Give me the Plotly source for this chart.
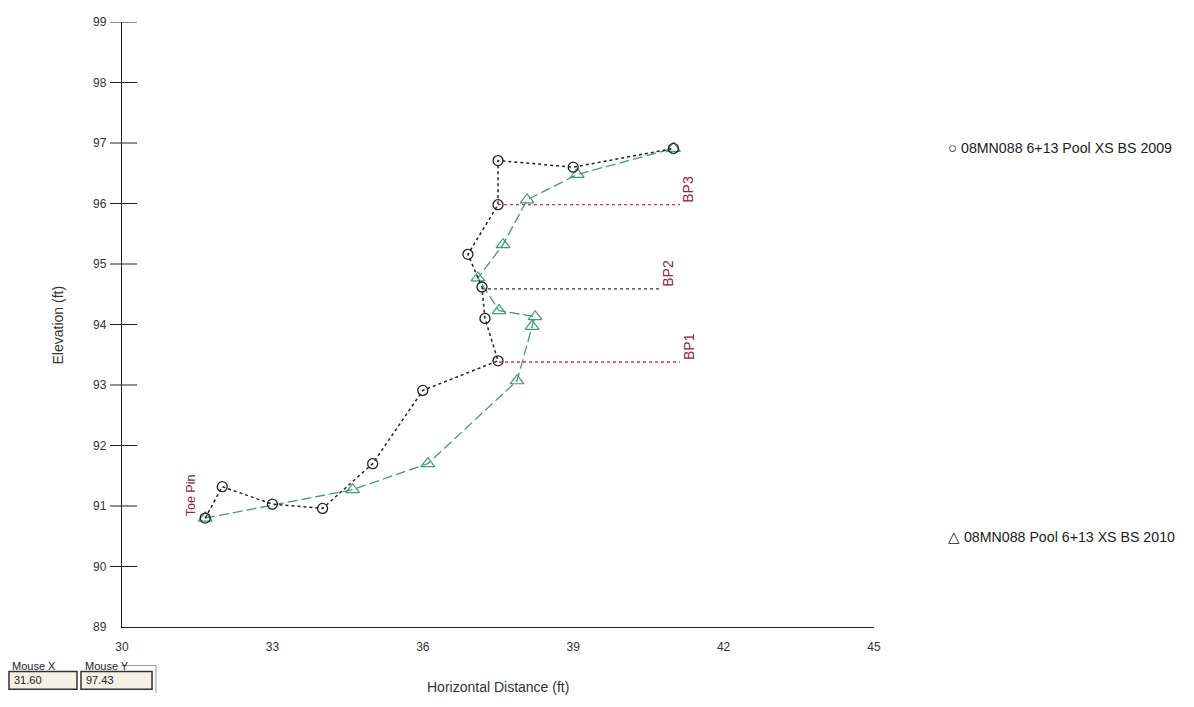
import plotly.graph_objects as go

# ---------------- data ----------------
x_2009 = [31.66, 32.0, 33.0, 34.0, 35.0, 36.0, 37.5, 37.24, 37.18, 36.9, 37.5, 37.5, 39.0, 41.0]
y_2009 = [90.80, 91.32, 91.03, 90.96, 91.70, 92.91, 93.40, 94.10, 94.62, 95.16, 95.98, 96.71, 96.60, 96.91]

x_2010 = [31.66, 34.6, 36.1, 37.88, 38.18, 38.24, 37.52, 37.1, 37.6, 38.08, 39.08, 41.0]
y_2010 = [90.80, 91.27, 91.70, 93.07, 93.97, 94.13, 94.23, 94.77, 95.32, 96.06, 96.48, 96.91]

bp_names = ["BP1", "BP2", "BP3"]
bp_elev = [93.38, 94.59, 95.98]
bp_x_start = [37.52, 37.18, 37.5]
bp_x_end = [41.13, 40.73, 41.13]

toe_pin_label = "Toe Pin"
toe_pin_x = 31.66
toe_pin_y = 90.80

series_names = ["08MN088 6+13 Pool XS BS 2009", "08MN088 Pool 6+13 XS BS 2010"]
legend_elev = [96.93, 90.50]

x_ticks = [30, 33, 36, 39, 42, 45]
y_ticks = [89, 90, 91, 92, 93, 94, 95, 96, 97, 98, 99]

mouse_x = "31.60"
mouse_y = "97.43"

# ---------------- layout geometry ----------------
# page pixels; the html body adds an 8px margin around the figure
BODY = 8
PAGE_W, PAGE_H = 1194, 707
PL, PT = 122, 15            # plot area left/top on the page
PW, PH = 752, 612           # plot area size
W, H = PAGE_W - 2 * BODY, PAGE_H - 2 * BODY
L, T = PL - BODY, PT - BODY
R, B = W - L - PW, H - T - PH


def px(xp):
    return (xp - PL) / PW


def py(yp):
    return (PT + PH - yp) / PH


RED = "#cc3350"
MAROON = "#8e2444"
GREEN = "#3f9d72"
FONT = "Liberation Sans, Arial, sans-serif"

fig = go.Figure()

# BP lines
bp_colors = [RED, "#333333", RED]
for i, name in enumerate(bp_names):
    fig.add_trace(go.Scatter(
        x=[bp_x_start[i], bp_x_end[i]], y=[bp_elev[i], bp_elev[i]],
        mode="lines", line=dict(color=bp_colors[i], width=1.3, dash="3px,3px"),
        showlegend=False, hoverinfo="skip"))

fig.add_trace(go.Scatter(
    x=x_2010, y=y_2010, mode="lines+markers", name=series_names[1],
    line=dict(color=GREEN, width=1.3, dash="10px,4px"),
    marker=dict(symbol="triangle-up-open", size=12, color=GREEN, line=dict(width=1.2)),
    showlegend=False))

fig.add_trace(go.Scatter(
    x=x_2009, y=y_2009, mode="lines+markers", name=series_names[0],
    line=dict(color="#222222", width=1.5, dash="3px,3px"),
    marker=dict(symbol="circle-open", size=10, color="#222222", line=dict(width=1.3)),
    showlegend=False))

annotations = []
# BP labels (rotated)
for i, name in enumerate(bp_names):
    annotations.append(dict(
        x=bp_x_end[i] + 0.17, y=bp_elev[i], xref="x", yref="y",
        text=name, textangle=-90, showarrow=False,
        xanchor="center", yanchor="bottom",
        font=dict(family=FONT, size=14, color=MAROON)))

annotations.append(dict(
    x=toe_pin_x - 0.28, y=toe_pin_y, xref="x", yref="y",
    text=toe_pin_label, textangle=-90, showarrow=False,
    xanchor="center", yanchor="bottom",
    font=dict(family=FONT, size=12.5, color=MAROON)))

# axis titles
annotations.append(dict(x=px(58), y=py(322), xref="paper", yref="paper",
                        text="Elevation (ft)", textangle=-90, showarrow=False,
                        xanchor="center", yanchor="middle",
                        font=dict(family=FONT, size=14, color="#333333")))
annotations.append(dict(x=px(498), y=py(688), xref="paper", yref="paper",
                        text="Horizontal Distance (ft)", showarrow=False,
                        xanchor="center", yanchor="middle",
                        font=dict(family=FONT, size=14, color="#333333")))

# legend entries
legend_symbols = ["○", "△"]
for i, name in enumerate(series_names):
    annotations.append(dict(x=px(946), y=legend_elev[i], xref="paper", yref="y",
                            text="<span style='font-size:15px'>" + legend_symbols[i]
                                 + "</span> " + name,
                            showarrow=False, xanchor="left", yanchor="middle",
                            font=dict(family=FONT, size=14.2, color="#222222")))

# mouse readout box
small = dict(family=FONT, size=11, color="#222222")
annotations.append(dict(x=px(10), y=py(666), xref="paper", yref="paper", text="Mouse X",
                        showarrow=False, xanchor="left", yanchor="middle", font=small))
annotations.append(dict(x=px(83), y=py(666), xref="paper", yref="paper", text="Mouse Y",
                        showarrow=False, xanchor="left", yanchor="middle", font=small))
annotations.append(dict(x=px(12), y=py(681), xref="paper", yref="paper", text=mouse_x,
                        showarrow=False, xanchor="left", yanchor="middle", font=small))
annotations.append(dict(x=px(84), y=py(681), xref="paper", yref="paper", text=mouse_y,
                        showarrow=False, xanchor="left", yanchor="middle", font=small))

shapes = []
for x0, x1 in [(9, 77), (81, 152)]:
    shapes.append(dict(type="rect", xref="paper", yref="paper",
                       x0=px(x0), x1=px(x1), y0=py(690), y1=py(672),
                       line=dict(color="#333333", width=1.5), fillcolor="#f3f1e6", layer="below"))
shapes.append(dict(type="line", xref="paper", yref="paper",
                   x0=px(121), x1=px(156), y0=py(666), y1=py(666),
                   line=dict(color="#999999", width=1)))
shapes.append(dict(type="line", xref="paper", yref="paper",
                   x0=px(156), x1=px(156), y0=py(666), y1=py(694),
                   line=dict(color="#999999", width=1)))

# y ticks crossing the axis line
for v in y_ticks[1:]:
    shapes.append(dict(type="line", xref="paper", yref="y",
                       x0=px(110), x1=px(137), y0=v, y1=v,
                       line=dict(color="#222222", width=1)))

fig.update_layout(
    width=W, height=H,
    margin=dict(l=L, r=R, t=T, b=B),
    paper_bgcolor="white", plot_bgcolor="white",
    showlegend=False,
    annotations=annotations, shapes=shapes,
    xaxis=dict(range=[30, 45], tickmode="array", tickvals=x_ticks,
               ticktext=[str(t) for t in x_ticks],
               showline=True, linecolor="#222222", linewidth=1.3,
               ticks="outside", ticklen=8, tickcolor="rgba(0,0,0,0)",
               showgrid=False, zeroline=False,
               tickfont=dict(family="Liberation Sans Narrow, " + FONT, size=12, color="#333333")),
    yaxis=dict(range=[89, 99], tickmode="array", tickvals=y_ticks,
               ticktext=[str(t) for t in y_ticks],
               showline=True, linecolor="#222222", linewidth=1.3,
               ticks="outside", ticklen=12, tickcolor="rgba(0,0,0,0)",
               showgrid=False, zeroline=False,
               tickfont=dict(family=FONT, size=12, color="#333333")),
)

fig.write_html("out.html")
